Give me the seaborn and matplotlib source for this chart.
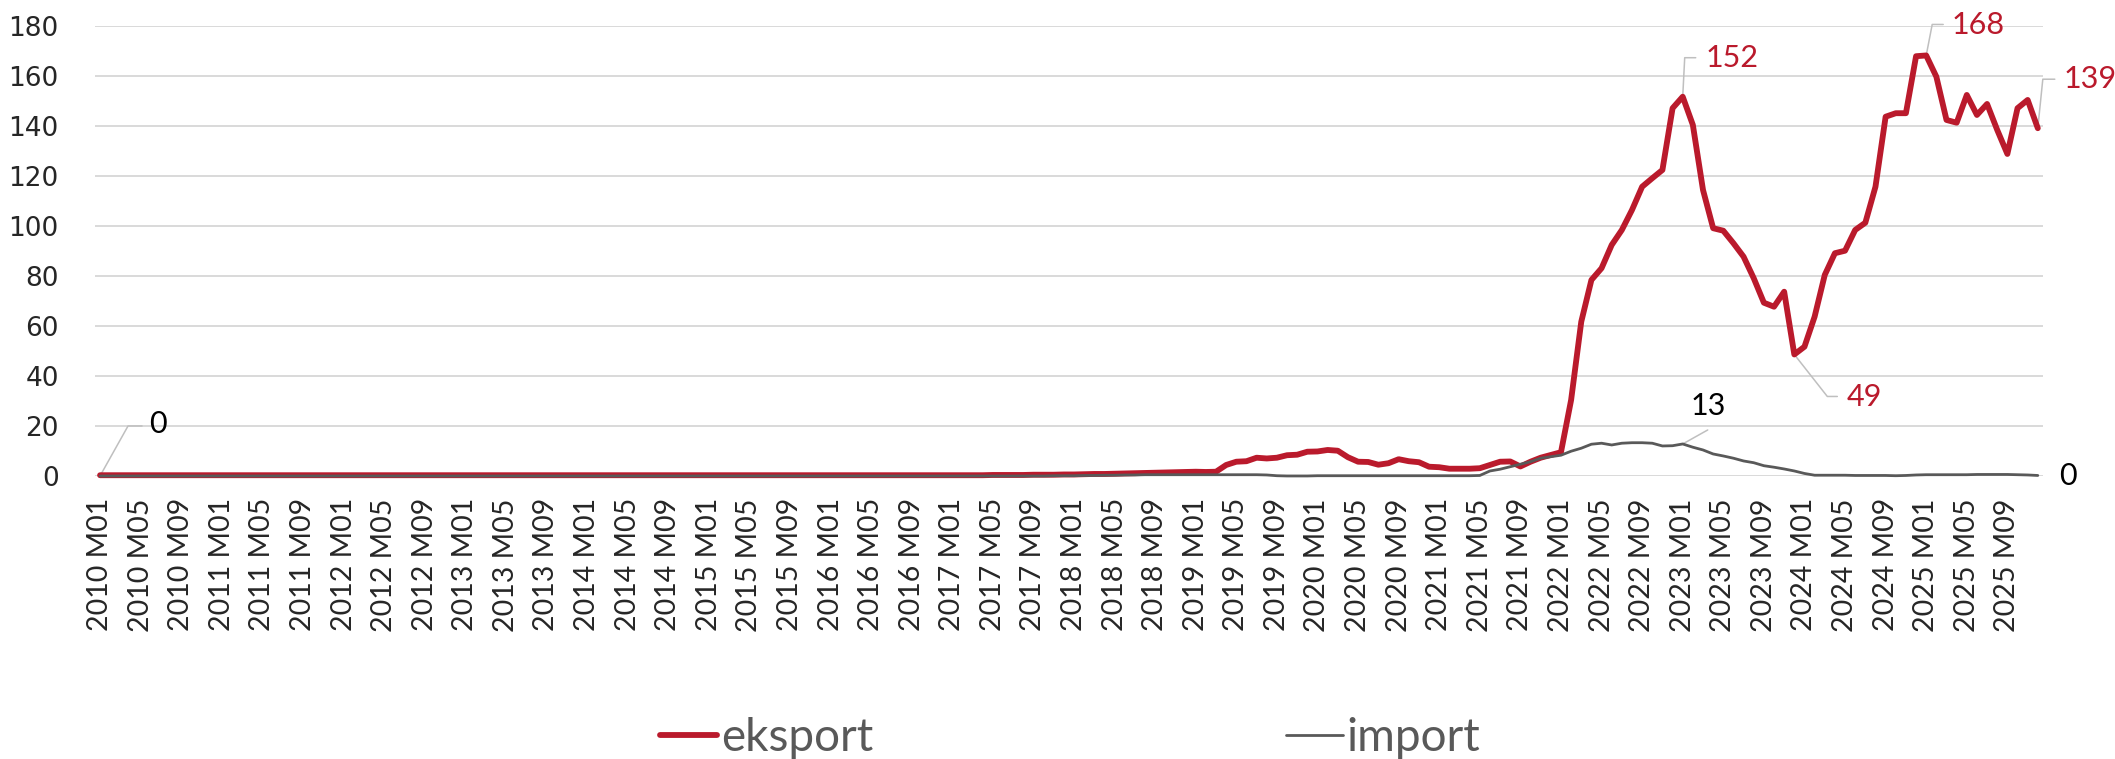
import matplotlib
matplotlib.use("Agg")
import matplotlib.pyplot as plt
from matplotlib.lines import Line2D
import seaborn as sns

# monthly data 2010 M01 .. 2025 M12
years = list(range(2010, 2026))
months = [f"{y} M{m:02d}" for y in years for m in range(1, 13)]

eksport = [
    0.3, 0.3, 0.3, 0.3, 0.3, 0.3, 0.3, 0.3, 0.3, 0.3, 0.3, 0.3,   # 2010
    0.3, 0.3, 0.3, 0.3, 0.3, 0.3, 0.3, 0.3, 0.3, 0.3, 0.3, 0.3,   # 2011
    0.3, 0.3, 0.3, 0.3, 0.3, 0.3, 0.3, 0.3, 0.3, 0.3, 0.3, 0.3,   # 2012
    0.3, 0.3, 0.3, 0.3, 0.3, 0.3, 0.3, 0.3, 0.3, 0.3, 0.3, 0.3,   # 2013
    0.3, 0.3, 0.3, 0.3, 0.3, 0.3, 0.3, 0.3, 0.3, 0.3, 0.3, 0.3,   # 2014
    0.3, 0.3, 0.3, 0.3, 0.3, 0.3, 0.3, 0.3, 0.3, 0.3, 0.3, 0.3,   # 2015
    0.3, 0.3, 0.3, 0.3, 0.3, 0.3, 0.3, 0.3, 0.3, 0.3, 0.3, 0.3,   # 2016
    0.3, 0.3, 0.3, 0.3, 0.4, 0.4, 0.4, 0.4, 0.5, 0.5, 0.5, 0.6,   # 2017
    0.6, 0.7, 0.8, 0.8, 0.9, 1.0, 1.1, 1.2, 1.3, 1.4, 1.5, 1.6,   # 2018
    1.7, 1.6, 1.7, 4.4, 5.7, 5.9, 7.3, 7.0, 7.3, 8.3, 8.5, 9.7,   # 2019
    9.8, 10.4, 10.1, 7.5, 5.7, 5.6, 4.5, 5.1, 6.7, 5.9, 5.5, 3.7,  # 2020
    3.5, 2.9, 2.9, 2.9, 3.1, 4.4, 5.7, 5.8, 3.8, 5.7, 7.3, 8.4,   # 2021
    9.5, 30.4, 61.7, 78.4, 83.1, 92.4, 98.4, 106.4, 115.7, 119.1, 122.4, 147.1,   # 2022
    151.7, 140.4, 114.4, 99.1, 98.1, 93.1, 87.7, 79.1, 69.3, 67.7, 73.7, 48.6,     # 2023
    51.7, 63.7, 80.4, 89.1, 90.1, 98.4, 101.3, 115.7, 143.7, 145.1, 145.1, 167.9,  # 2024
    168.2, 159.7, 142.4, 141.3, 152.4, 144.4, 148.8, 138.4, 128.8, 147.1, 150.4, 139.1,  # 2025
]

imp = [
    0.0, 0.0, 0.0, 0.0, 0.0, 0.0, 0.0, 0.0, 0.0, 0.0, 0.0, 0.0,   # 2010
    0.0, 0.0, 0.0, 0.0, 0.0, 0.0, 0.0, 0.0, 0.0, 0.0, 0.0, 0.0,   # 2011
    0.0, 0.0, 0.0, 0.0, 0.0, 0.0, 0.0, 0.0, 0.0, 0.0, 0.0, 0.0,   # 2012
    0.0, 0.0, 0.0, 0.0, 0.0, 0.0, 0.0, 0.0, 0.0, 0.0, 0.0, 0.0,   # 2013
    0.0, 0.0, 0.0, 0.0, 0.0, 0.0, 0.0, 0.0, 0.0, 0.0, 0.0, 0.0,   # 2014
    0.0, 0.0, 0.0, 0.0, 0.0, 0.0, 0.0, 0.0, 0.0, 0.0, 0.0, 0.0,   # 2015
    0.0, 0.0, 0.0, 0.0, 0.0, 0.0, 0.0, 0.0, 0.0, 0.0, 0.0, 0.0,   # 2016
    0.0, 0.0, 0.0, 0.0, 0.0, 0.0, 0.0, 0.0, 0.0, 0.0, 0.1, 0.1,   # 2017
    0.1, 0.2, 0.2, 0.3, 0.3, 0.4, 0.4, 0.5, 0.5, 0.5, 0.5, 0.5,   # 2018
    0.5, 0.5, 0.5, 0.5, 0.5, 0.5, 0.5, 0.4, 0.1, 0.0, 0.0, 0.0,   # 2019
    0.1, 0.1, 0.1, 0.1, 0.1, 0.1, 0.1, 0.1, 0.1, 0.1, 0.1, 0.1,   # 2020
    0.1, 0.1, 0.1, 0.1, 0.2, 2.0, 2.7, 3.7, 4.7, 5.7, 7.1, 7.7,   # 2021
    8.3, 9.9, 11.1, 12.7, 13.1, 12.4, 13.1, 13.3, 13.3, 13.1, 12.0, 12.1,  # 2022
    12.8, 11.5, 10.4, 8.8, 8.0, 7.1, 6.0, 5.3, 4.1, 3.5, 2.8, 2.0,         # 2023
    1.0, 0.3, 0.3, 0.3, 0.3, 0.2, 0.2, 0.2, 0.2, 0.1, 0.2, 0.4,            # 2024
    0.5, 0.5, 0.5, 0.5, 0.5, 0.6, 0.6, 0.6, 0.6, 0.5, 0.4, 0.2,            # 2025
]

yticks = [0, 20, 40, 60, 80, 100, 120, 140, 160, 180]

RED = "#BA1A2C"
GRAY = "#595959"
LEAD = "#BFBFBF"

sns.set_style("white")
plt.rcParams["font.family"] = ["Lato", "DejaVu Sans"]

fig = plt.figure(figsize=(21.15, 7.59), dpi=100)
ax = fig.add_axes([0.0449, 0.3729, 0.921, 0.5929])

idx = list(range(len(months)))
sns.lineplot(x=idx, y=eksport, ax=ax, color=RED, linewidth=4.2, zorder=3, clip_on=False)
sns.lineplot(x=idx, y=imp, ax=ax, color=GRAY, linewidth=2.0, zorder=4, clip_on=False)

ax.set_xlim(-0.5, len(months) - 0.5)
ax.set_ylim(0, 180)
ax.set_yticks(yticks)
ax.set_yticklabels([str(t) for t in yticks], family="DejaVu Sans", fontsize=19)
ax.set_xticks(idx[::4])
ax.set_xticklabels(months[::4], rotation=90, fontsize=20.5, va="top", ha="center")
ax.tick_params(axis="both", length=0)
ax.tick_params(axis="x", pad=16)
ax.tick_params(axis="y", pad=26)
ax.yaxis.grid(True, color="#D9D9D9", linewidth=1.4)
ax.xaxis.grid(False)
ax.set_axisbelow(True)
for s in ax.spines.values():
    s.set_visible(False)
ax.set_xlabel("")
ax.set_ylabel("")


def leader(i, v, pts):
    x0, y0 = ax.transData.transform((i, v))
    inv = ax.transData.inverted()
    xy = [inv.transform((x0 + dx, y0 + dy)) for dx, dy in [(0, 0)] + pts]
    ax.plot([p[0] for p in xy], [p[1] for p in xy], color=LEAD, lw=1.1,
            clip_on=False, zorder=2)


def label(i, v, text, dx, dy, color, ha="left"):
    ax.annotate(text, xy=(i, v), xytext=(dx, dy), textcoords="offset pixels",
                ha=ha, va="center", fontsize=22, color=color, annotation_clip=False)


# eksport labels
for i, pts, off in [
    (156, [(2, 39), (13, 39)], (23, 39)),
    (167, [(33, -42), (43, -42)], (52, -43)),
    (180, [(6, 31), (17, 31)], (25, 30)),
    (191, [(5, 49), (17, 49)], (26, 49)),
]:
    leader(i, eksport[i], pts)
    label(i, eksport[i], f"{eksport[i]:.0f}", off[0], off[1], RED)

# import labels
leader(0, imp[0], [(28, 50), (42, 50)])
label(0, imp[0], f"{imp[0]:.0f}", 49, 52, "black")
leader(156, imp[156], [(25, 14)])
label(156, imp[156], f"{imp[156]:.0f}", 26, 38, "black", ha="center")
label(191, imp[191], f"{imp[191]:.0f}", 21, -1, "black")

leg = ax.get_legend()
if leg is not None:
    leg.remove()

handles = [Line2D([], [], color=RED, lw=4.2, solid_capstyle="round"),
           Line2D([], [], color=GRAY, lw=2.0)]
fig.legend(handles, ["eksport", "import"], loc="center", bbox_to_anchor=(0.506, 0.028),
           ncol=2, frameon=False, handlelength=1.25, handletextpad=0.08,
           columnspacing=9.0, labelcolor=GRAY,
           prop=dict(family="Lato", weight="normal", size=33))

fig.savefig("out.png", dpi=100)
